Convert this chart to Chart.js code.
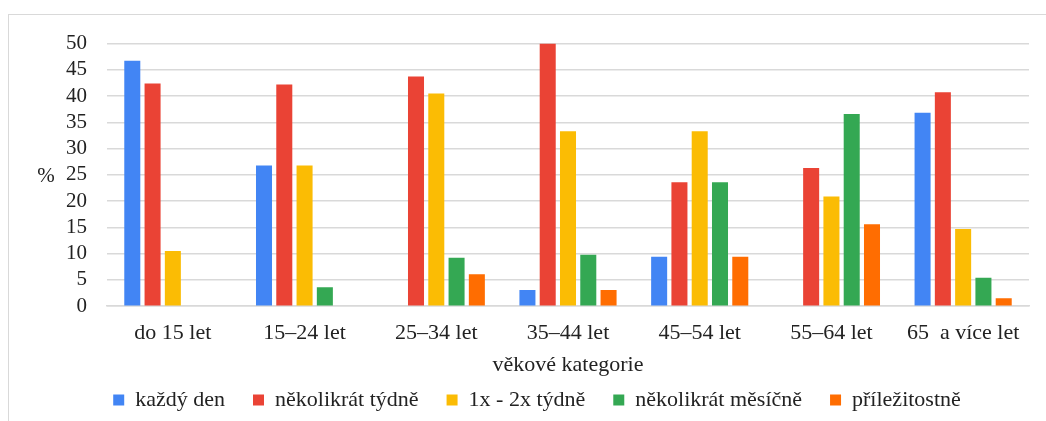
<!DOCTYPE html>
<html>
<head>
<meta charset="utf-8">
<script src="https://cdn.jsdelivr.net/npm/chart.js@4"></script>
<style>
    html, body { margin: 0; padding: 0; background: #fff; overflow: hidden; }
    #frame {
        position: absolute; left: 8px; top: 14px;
        width: 1050px; height: 440px;
        border: 1px solid #d9d9d9;
    }
    #wrap { position: absolute; left: 0; top: 0; width: 1037px; height: 406px; }
</style>
</head>
<body>
<div id="frame"><div id="wrap"><canvas id="chart"></canvas></div></div>
<script>
// kategorie a hodnoty (%)
const categories = ['do 15 let', '15–24 let', '25–34 let', '35–44 let', '45–54 let', '55–64 let', '65  a více let'];
const seriesNames = ['každý den', 'několikrát týdně', '1x - 2x týdně', 'několikrát měsíčně', 'příležitostně'];
const kazdyDen = [46.7, 26.8, null, 3.1, 9.4, null, 36.8];
const nekolikratTydne = [42.4, 42.2, 43.7, 50.0, 23.6, 26.3, 40.7];
const jednouDvakratTydne = [10.5, 26.8, 40.5, 33.3, 33.3, 20.9, 14.7];
const nekolikratMesicne = [null, 3.6, 9.2, 9.8, 23.6, 36.6, 5.4];
const prilezitostne = [null, null, 6.1, 3.1, 9.4, 15.6, 1.5];
const yTicks = [0, 5, 10, 15, 20, 25, 30, 35, 40, 45, 50];

const colors = ['#4285F4', '#EA4335', '#FBBC04', '#34A853', '#FF6D01'];
const values = [kazdyDen, nekolikratTydne, jednouDvakratTydne, nekolikratMesicne, prilezitostne];

const serif = "'Liberation Serif', 'Times New Roman', serif";
Chart.defaults.font.family = serif;
Chart.defaults.color = '#222';

// "%" vodorovne vlevo od osy y
const percentLabel = {
    id: 'percentLabel',
    afterDraw(chart) {
        const ctx = chart.ctx;
        const area = chart.chartArea;
        ctx.save();
        ctx.font = '21px ' + serif;
        ctx.fillStyle = '#222';
        ctx.textAlign = 'center';
        ctx.textBaseline = 'middle';
        ctx.fillText('%', area.left - 61, (area.top + area.bottom) / 2 + 2);
        ctx.restore();
    }
};

const ctx = document.querySelector('#chart').getContext('2d');
const chart = new Chart(ctx, {
    type: 'bar',
    data: {
        labels: categories,
        datasets: seriesNames.map((name, i) => ({
            label: name,
            data: values[i],
            backgroundColor: colors[i],
            borderWidth: 0,
            categoryPercentage: 0.77,
            barPercentage: 0.79
        }))
    },
    options: {
        responsive: true,
        maintainAspectRatio: false,
        animation: false,
        layout: {
            padding: { left: 36, right: 17, top: 28.5, bottom: 0 }
        },
        scales: {
            x: {
                grid: { display: false, drawTicks: false },
                border: { color: '#d9d9d9', width: 1.5 },
                ticks: { font: { size: 22 }, padding: 14, maxRotation: 0, autoSkip: false },
                title: {
                    display: true,
                    text: 'věkové kategorie',
                    font: { size: 22 },
                    padding: { top: -9, bottom: -17 }
                }
            },
            y: {
                min: 0,
                max: 50,
                afterBuildTicks: scale => { scale.ticks = yTicks.map(v => ({ value: v })); },
                grid: { color: '#d9d9d9', lineWidth: 1.5, drawTicks: false },
                border: { display: false },
                ticks: { font: { size: 21 }, padding: 20, autoSkip: false },
                afterFit: scale => {
                    scale.width = 62;
                    scale.paddingTop = 0; // horni okraj ridi layout.padding
                }
            }
        },
        plugins: {
            legend: {
                position: 'bottom',
                labels: {
                    boxWidth: 11,
                    boxHeight: 11,
                    padding: 28,
                    font: { size: 22 }
                }
            },
            title: { display: false },
            tooltip: { enabled: false }
        }
    },
    plugins: [percentLabel]
});
</script>
</body>
</html>
